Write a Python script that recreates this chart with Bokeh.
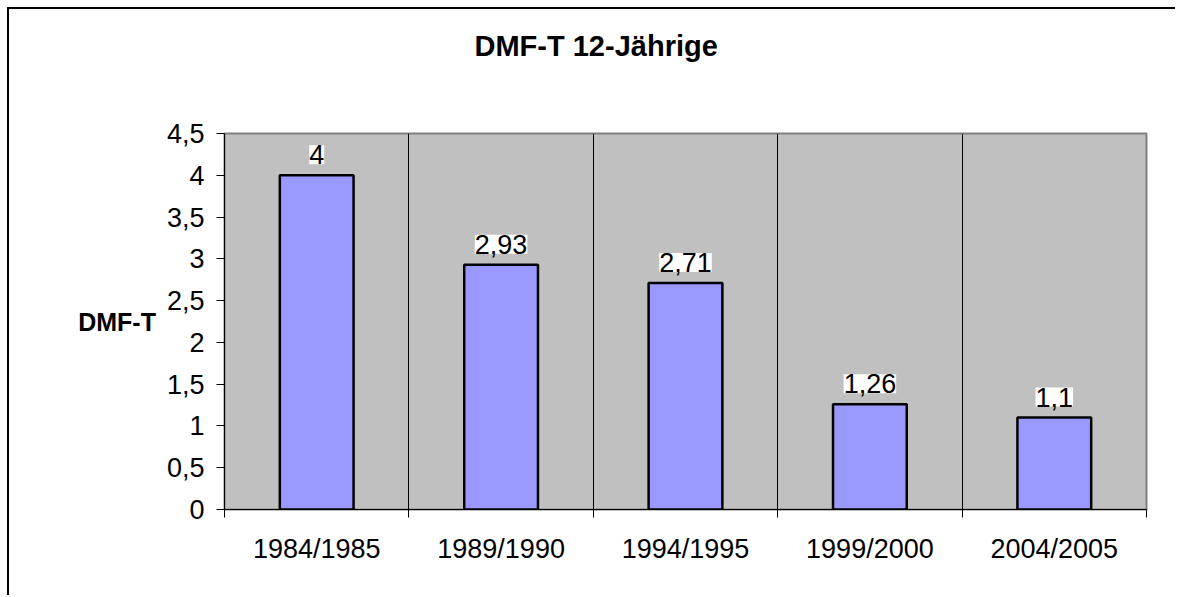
from bokeh.plotting import figure
from bokeh.models import (ColumnDataSource, FixedTicker, LabelSet, Range1d, Title,
                          CustomJSTickFormatter)
from bokeh.core.properties import value
from bokeh.embed import file_html
from bokeh.resources import INLINE

# ---- data ----
categories = ["1984/1985", "1989/1990", "1994/1995", "1999/2000", "2004/2005"]
values = [4.0, 2.93, 2.71, 1.26, 1.1]
value_labels = ["4", "2,93", "2,71", "1,26", "1,1"]
y_ticks = [0, 0.5, 1, 1.5, 2, 2.5, 3, 3.5, 4, 4.5]
title_text = "DMF-T 12-Jährige"
y_label = "DMF-T"

FONT = "Liberation Sans"

n = len(categories)
centers = [i + 0.5 for i in range(n)]
boundaries = list(range(n + 1))

src = ColumnDataSource(dict(x=centers, top=values, lab=value_labels))

p = figure(width=1168, height=588, output_backend="svg", toolbar_location=None,
           x_range=Range1d(0, n), y_range=Range1d(0, 4.5),
           min_border_left=215, min_border_right=31, min_border_top=124,
           min_border_bottom=88)
p.styles = {"margin-left": "7px", "margin-top": "7px",
            "border-left": "2px solid black", "border-top": "2px solid black"}

p.background_fill_color = "#C0C0C0"
p.border_fill_color = "white"
p.outline_line_color = "#808080"
p.outline_line_width = 2

p.vbar(x="x", top="top", width=0.4, bottom=0, source=src,
       fill_color="#9999FF", line_color="black", line_width=2.5)

label_kw = dict(x="x", y="top", text="lab", source=src, y_offset=11,
                text_align="center", text_baseline="bottom",
                text_font=value(FONT), text_font_size=value("27px"),
                text_color="black", background_fill_color="white")
if "padding" in LabelSet.properties():
    label_kw["padding"] = 3
    label_kw["y_offset"] = 14
labels = LabelSet(**label_kw)
p.add_layout(labels)

# x axis: ticks at category boundaries, labels centered
xa = p.xaxis[0]
xa.ticker = FixedTicker(ticks=centers, minor_ticks=boundaries)
xa.major_label_overrides = {c: cat for c, cat in zip(centers, categories)}
xa.major_tick_line_color = None
xa.major_tick_out = 8
xa.major_tick_in = 0
xa.minor_tick_out = 8
xa.minor_tick_in = 0
xa.minor_tick_line_color = "black"
xa.axis_line_color = "black"
xa.major_label_text_font = FONT
xa.major_label_text_font_size = "27px"
xa.major_label_text_color = "black"
xa.major_label_standoff = 16

ya = p.yaxis[0]
ya.ticker = FixedTicker(ticks=y_ticks, minor_ticks=[])
ya.formatter = CustomJSTickFormatter(code="return tick.toString().replace('.', ',');")
ya.major_tick_out = 8
ya.major_tick_in = 0
ya.major_tick_line_color = "black"
ya.axis_line_color = "black"
ya.major_label_text_font = FONT
ya.major_label_text_font_size = "27px"
ya.major_label_text_color = "black"
ya.major_label_standoff = 12
ya.axis_label = y_label
ya.axis_label_orientation = "horizontal"
ya.axis_label_standoff = 8
ya.axis_label_text_font = FONT
ya.axis_label_text_font_size = "25px"
ya.axis_label_text_font_style = "bold"
ya.axis_label_text_color = "black"

p.xgrid[0].ticker = FixedTicker(ticks=boundaries)
p.xgrid[0].grid_line_color = "black"
p.xgrid[0].grid_line_width = 1
p.ygrid[0].grid_line_color = None

# spacer (closest to the plot area), then the real title above it
p.add_layout(Title(text=" ", text_font_size="10px", standoff=54), "above")
p.add_layout(Title(text=title_text, align="left", offset=250, standoff=10,
                   text_font=FONT, text_font_size="29px", text_font_style="bold",
                   text_color="black"), "above")

open("out.html", "w").write(file_html(p, INLINE))
